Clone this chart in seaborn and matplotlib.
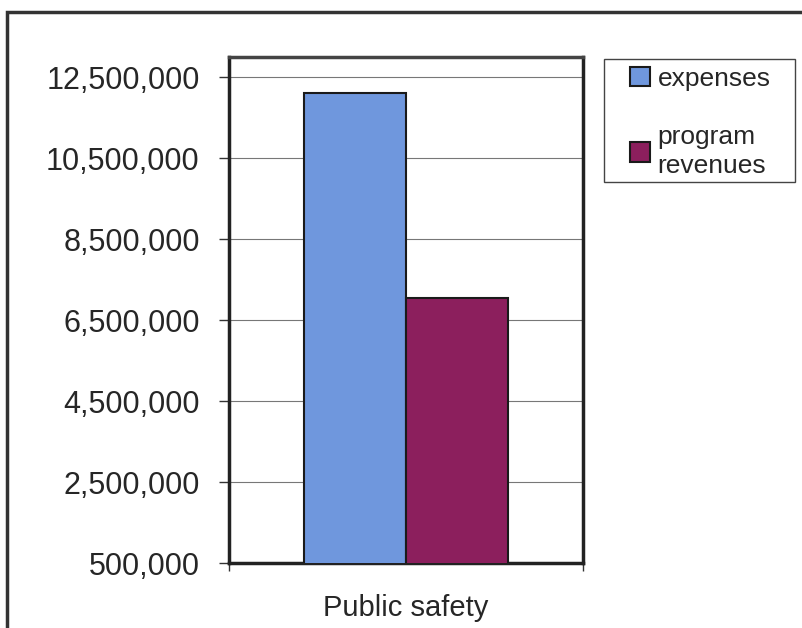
import matplotlib
matplotlib.use('Agg')
import matplotlib.pyplot as plt
import pandas as pd
import seaborn as sns
from matplotlib.ticker import FuncFormatter, FixedLocator
from matplotlib.patches import Rectangle

# data
categories = ['Public safety']
series = ['expenses', 'program revenues']
values = [12100000, 7050000]
legend_labels = ['expenses', 'program\nrevenues']
yticks = [500000, 2500000, 4500000, 6500000, 8500000, 10500000, 12500000]

colors = ['#6f97dd', '#8c1f5d']

df = pd.DataFrame({'category': categories * 2, 'series': series, 'value': values})

sns.set_style('white')
plt.rcParams['font.family'] = ['Liberation Sans', 'DejaVu Sans']

fig = plt.figure(figsize=(8.03, 6.28), dpi=100)
ax = fig.add_axes([0.285, 0.1035, 0.441, 0.806])

sns.barplot(data=df, x='category', y='value', hue='series', palette=colors,
            saturation=1, width=0.575, edgecolor='#1a1a1a', linewidth=1.5,
            ax=ax, zorder=3)

ax.set_ylim(500000, 13000000)
ax.set_xlim(-0.5, 0.5)
ax.yaxis.set_major_locator(FixedLocator(yticks))
ax.yaxis.set_major_formatter(FuncFormatter(lambda v, p: f'{int(v):,}'))
ax.grid(axis='y', color='#777777', linewidth=0.8, zorder=0)
ax.tick_params(axis='y', labelsize=22, length=7, width=1, color='#333333', pad=14, left=True)
ax.tick_params(axis='x', labelsize=21, length=0, pad=22)
ax.xaxis.set_minor_locator(FixedLocator([-0.5, 0.5]))
ax.tick_params(axis='x', which='minor', length=6, width=1, color='#333333', bottom=True)
ax.set_xlabel('')
ax.set_ylabel('')
for s in ax.spines.values():
    s.set_visible(True)
    s.set_color('#222222')
    s.set_linewidth(2.5)
ax.spines['top'].set_color('#444444')

handles, _ = ax.get_legend_handles_labels()
leg = ax.legend(handles, legend_labels, loc='upper left',
                bbox_to_anchor=(630 / 803, 1 - 67 / 628), bbox_transform=fig.transFigure,
                fontsize=19, frameon=False,
                handlelength=0.75, handleheight=0.75, handletextpad=0.3,
                labelspacing=1.3, borderpad=0.0, borderaxespad=0)
for t in leg.get_texts():
    t.set_linespacing(1.25)

# legend frame
fig.patches.append(Rectangle((604 / 803, 1 - 182 / 628), 191 / 803, 123 / 628,
                             transform=fig.transFigure, fill=False,
                             edgecolor='#444444', linewidth=1.0))

# outer chart frame (cropped at right and bottom in the scan)
fig.patches.append(Rectangle((7 / 803, -0.05), 1.2, 1 - 12 / 628 + 0.05,
                             transform=fig.transFigure, fill=False,
                             edgecolor='#333333', linewidth=2.5))

fig.savefig('out.png', dpi=100)
